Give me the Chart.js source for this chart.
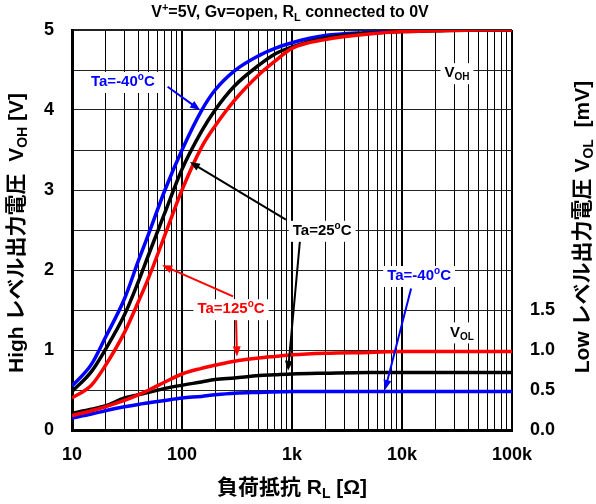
<!DOCTYPE html>
<html>
<head>
<meta charset="utf-8">
<script src="https://cdn.jsdelivr.net/npm/chart.js@4/dist/chart.umd.min.js"></script>
<style>
  html, body { margin: 0; padding: 0; background: #fff; }
  #wrap { width: 596px; height: 504px; }
</style>
</head>
<body>
<div id="wrap"><canvas id="chart"></canvas></div>
<script>
// Load resistance R_L [ohm]
const resistances = [10, 15, 20, 30, 40, 50, 70, 100, 150, 200, 300, 500, 700, 1000, 2000, 5000, 10000, 20000, 50000, 100000];

// High level output voltage V_OH [V]
const vohM40 = [0.55, 0.82, 1.15, 1.64, 2.11, 2.46, 3.0, 3.5, 3.99, 4.25, 4.49, 4.68, 4.77, 4.84, 4.93, 4.97, 4.99, 5.0, 5.0, 5.0];
const voh25 = [0.48, 0.73, 1.0, 1.44, 1.85, 2.2, 2.72, 3.26, 3.73, 4.0, 4.3, 4.56, 4.7, 4.79, 4.9, 4.96, 4.98, 4.99, 5.0, 5.0];
const voh125 = [0.4, 0.56, 0.8, 1.22, 1.6, 1.91, 2.44, 3.0, 3.53, 3.8, 4.12, 4.44, 4.61, 4.77, 4.88, 4.95, 4.98, 4.99, 5.0, 5.0];

// Low level output voltage V_OL [mV]
const volM40 = [0.15, 0.2, 0.24, 0.29, 0.32, 0.34, 0.37, 0.4, 0.42, 0.44, 0.46, 0.47, 0.475, 0.48, 0.48, 0.48, 0.48, 0.48, 0.48, 0.48];
const vol25 = [0.21, 0.26, 0.3, 0.4, 0.44, 0.47, 0.52, 0.56, 0.6, 0.63, 0.65, 0.68, 0.69, 0.7, 0.71, 0.72, 0.72, 0.72, 0.72, 0.72];
const vol125 = [0.18, 0.24, 0.29, 0.37, 0.44, 0.5, 0.6, 0.7, 0.77, 0.81, 0.86, 0.9, 0.92, 0.94, 0.96, 0.97, 0.98, 0.98, 0.98, 0.98];

// Axis ticks
const xDecades = [10, 100, 1000, 10000, 100000];
const xTickLabels = ['10', '100', '1k', '10k', '100k'];
const rightTickMax = 1.5;

const BLUE = '#0000ff';
const RED = '#ff0000';
const BLACK = '#000000';
const LATIN = "'Liberation Sans', Arial, 'Noto Sans CJK JP', sans-serif";

// callouts: text position and arrows, in data units (R, V)
const callouts = [
  { text: [['Ta=-40'], ['o', 'sup'], ['C']], color: BLUE, at: [29, 4.35],
    arrows: [[[74, 4.29], [146, 4.0]]] },
  { text: [['Ta=25'], ['o', 'sup'], ['C']], color: BLACK, at: [1880, 2.49],
    arrows: [[[880, 2.63], [118, 3.35]], [[1180, 2.36], [920, 0.74]]] },
  { text: [['Ta=125'], ['o', 'sup'], ['C']], color: RED, at: [279, 1.51],
    arrows: [[[291, 1.67], [66, 2.06]], [[310, 1.41], [316, 0.92]]] },
  { text: [['Ta=-40'], ['o', 'sup'], ['C']], color: BLUE, at: [14300, 1.925],
    arrows: [[[12100, 1.77], [7000, 0.5]]] },
  { text: [['V'], ['OH', 'sub']], color: BLACK, at: [31600, 4.46], arrows: [] },
  { text: [['V'], ['OL', 'sub']], color: BLACK, at: [35000, 1.22], arrows: [] }
];

// width of a run of text pieces with sub/superscripts
function richWidth(ctx, segs, size) {
  let w = 0;
  for (const [t, kind] of segs) {
    ctx.font = 'bold ' + (kind ? Math.round(size * 0.68) : size) + 'px ' + LATIN;
    w += ctx.measureText(t).width;
  }
  return w;
}

// draws the run centred on (x, y)
function drawRich(ctx, segs, x, y, size, color) {
  const total = richWidth(ctx, segs, size);
  let cx = x - total / 2;
  ctx.fillStyle = color;
  ctx.textBaseline = 'middle';
  ctx.textAlign = 'left';
  for (const [t, kind] of segs) {
    const s = kind ? Math.round(size * 0.68) : size;
    ctx.font = 'bold ' + s + 'px ' + LATIN;
    let dy = 0;
    if (kind === 'sub') dy = size * 0.3;
    if (kind === 'sup') dy = -size * 0.3;
    ctx.fillText(t, cx, y + dy);
    cx += ctx.measureText(t).width;
  }
  return total;
}

function arrow(ctx, x1, y1, x2, y2, color) {
  const ang = Math.atan2(y2 - y1, x2 - x1);
  const len = 10, half = 4;
  ctx.strokeStyle = color;
  ctx.fillStyle = color;
  ctx.lineWidth = 2;
  ctx.beginPath();
  ctx.moveTo(x1, y1);
  ctx.lineTo(x2 - Math.cos(ang) * len * 0.8, y2 - Math.sin(ang) * len * 0.8);
  ctx.stroke();
  ctx.beginPath();
  ctx.moveTo(x2, y2);
  ctx.lineTo(x2 - Math.cos(ang) * len + Math.sin(ang) * half, y2 - Math.sin(ang) * len - Math.cos(ang) * half);
  ctx.lineTo(x2 - Math.cos(ang) * len - Math.sin(ang) * half, y2 - Math.sin(ang) * len + Math.cos(ang) * half);
  ctx.closePath();
  ctx.fill();
}

const labelsPlugin = {
  id: 'labels',
  afterDatasetsDraw(chart) {
    const { ctx, scales: { x, y } } = chart;
    ctx.save();
    for (const c of callouts) {
      for (const [[r1, v1], [r2, v2]] of c.arrows) {
        arrow(ctx, x.getPixelForValue(r1), y.getPixelForValue(v1),
          x.getPixelForValue(r2), y.getPixelForValue(v2), c.color);
      }
    }
    for (const c of callouts) {
      const px = x.getPixelForValue(c.at[0]);
      const py = y.getPixelForValue(c.at[1]);
      const w = richWidth(ctx, c.text, 15);
      ctx.fillStyle = '#fff';
      ctx.fillRect(px - w / 2 - 4, py - 10, w + 8, 21);
      drawRich(ctx, c.text, px, py, 15, c.color);
    }
    ctx.restore();
  },
  afterDraw(chart) {
    const { ctx, chartArea } = chart;
    const cx = (chartArea.left + chartArea.right) / 2;
    ctx.save();
    // title
    drawRich(ctx, [['V'], ['+', 'sup'], ['=5V, Gv=open, R'], ['L', 'sub'], [' connected to 0V']],
      cx - 2, 13, 16, BLACK);
    // x axis title
    drawRich(ctx, [['負荷抵抗 R'], ['L', 'sub'], [' [Ω]']], cx, 488, 21, BLACK);
    // left axis title
    ctx.translate(17, 233);
    ctx.rotate(-Math.PI / 2);
    drawRich(ctx, [['High レベル出力電圧  V'], ['OH', 'sub'], [' [V]']], 0, 0, 21, BLACK);
    ctx.restore();
    // right axis title
    ctx.save();
    ctx.translate(583, 227);
    ctx.rotate(-Math.PI / 2);
    drawRich(ctx, [['Low レベル出力電圧 V'], ['OL', 'sub'], ['  [mV]']], 0, 0, 21, BLACK);
    ctx.restore();
  }
};

function series(data, color) {
  return {
    data: resistances.map((r, i) => ({ x: r, y: data[i] })),
    borderColor: color,
    borderWidth: 3.5,
    pointRadius: 0,
    fill: false,
    cubicInterpolationMode: 'monotone'
  };
}

// grid at 1..9 of every decade
const xTicks = [];
for (const d of xDecades) {
  for (let m = 1; m <= (d === 100000 ? 1 : 9); m++) xTicks.push(d * m);
}

new Chart(document.getElementById('chart'), {
  type: 'line',
  data: {
    datasets: [
      series(voh125, RED), series(voh25, BLACK), series(vohM40, BLUE),
      series(vol125, RED), series(vol25, BLACK), series(volM40, BLUE)
    ]
  },
  options: {
    responsive: true,
    maintainAspectRatio: false,
    animation: false,
    devicePixelRatio: 1,
    layout: { padding: { top: 30, left: 0, right: 0, bottom: 0 } },
    plugins: { legend: { display: false }, tooltip: { enabled: false } },
    scales: {
      x: {
        type: 'logarithmic',
        min: 10,
        max: 100000,
        afterBuildTicks(scale) {
          scale.ticks = xTicks.map(v => ({ value: v }));
        },
        afterFit(scale) { scale.height = 74; },
        ticks: {
          autoSkip: false,
          maxRotation: 0,
          padding: 14,
          color: BLACK,
          font: { family: LATIN, size: 18, weight: 'bold' },
          callback: v => {
            const i = xDecades.indexOf(v);
            return i >= 0 ? xTickLabels[i] : '';
          }
        },
        grid: {
          drawTicks: false,
          color: BLACK,
          lineWidth: c => (c.tick && xDecades.includes(c.tick.value)) ? 2 : 1
        },
        border: { color: BLACK, width: 3 }
      },
      y: {
        type: 'linear',
        position: 'left',
        min: 0,
        max: 5,
        afterFit(scale) { scale.width = 72; },
        ticks: {
          stepSize: 0.5,
          padding: 18,
          color: BLACK,
          font: { family: LATIN, size: 18, weight: 'bold' },
          callback: v => Number.isInteger(v) ? String(v) : ''
        },
        grid: {
          drawTicks: false,
          color: '#222',
          lineWidth: c => (c.tick && c.tick.value === 5) ? 2 : 1
        },
        border: { color: BLACK, width: 3 }
      },
      y2: {
        type: 'linear',
        position: 'right',
        min: 0,
        max: 5,
        afterFit(scale) { scale.width = 84; },
        ticks: {
          stepSize: 0.5,
          padding: 18,
          color: BLACK,
          font: { family: LATIN, size: 18, weight: 'bold' },
          callback: v => v <= rightTickMax ? v.toFixed(1) : ''
        },
        grid: { display: false, drawTicks: false },
        border: { display: false }
      }
    }
  },
  plugins: [labelsPlugin]
});
</script>
</body>
</html>
